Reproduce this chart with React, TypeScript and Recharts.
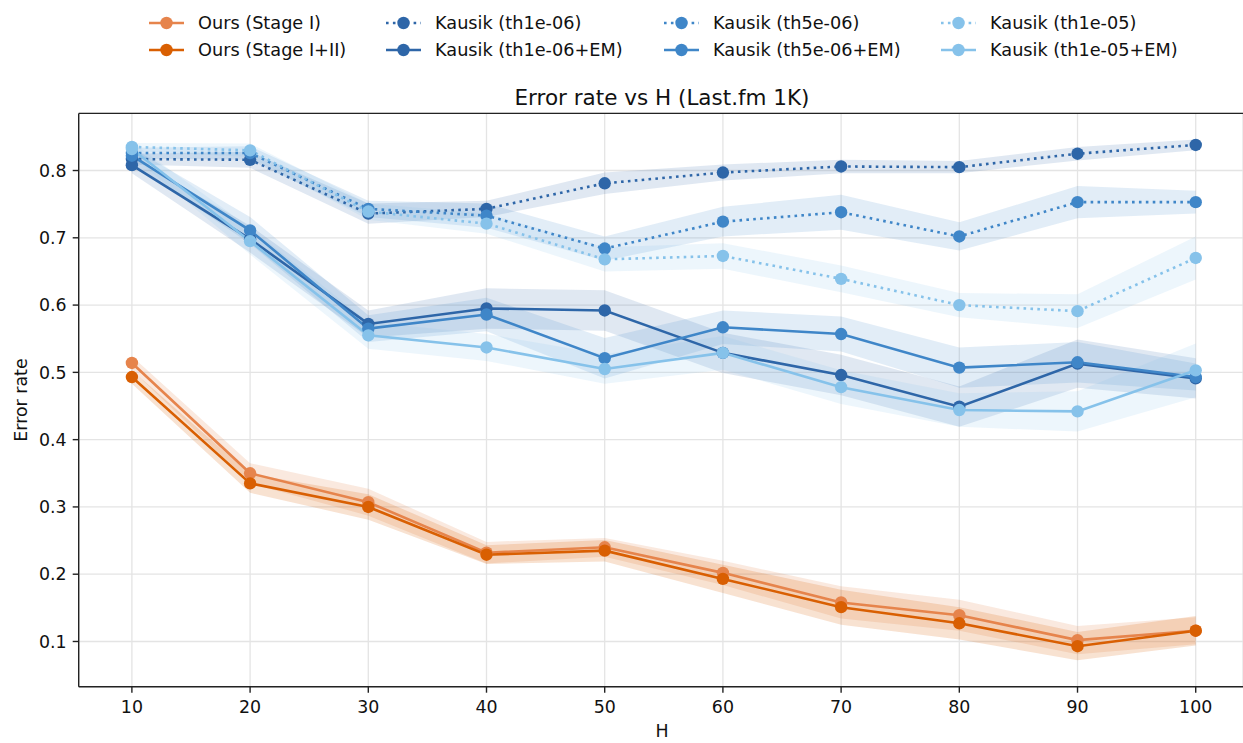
import React from 'react';
import { ComposedChart, Line, Area, XAxis, YAxis, CartesianGrid, ReferenceLine } from 'recharts';

const H = [10, 20, 30, 40, 50, 60, 70, 80, 90, 100];
const yTicks = [0.1, 0.2, 0.3, 0.4, 0.5, 0.6, 0.7, 0.8];

const oursStageI = [0.514, 0.350, 0.307, 0.232, 0.240, 0.202, 0.158, 0.139, 0.102, 0.116];
const oursStageIErr = [0.010, 0.015, 0.020, 0.016, 0.014, 0.018, 0.024, 0.023, 0.021, 0.020];
const oursStageI_II = [0.493, 0.335, 0.300, 0.229, 0.235, 0.193, 0.151, 0.127, 0.093, 0.116];
const oursStageI_IIErr = [0.010, 0.014, 0.019, 0.014, 0.016, 0.021, 0.026, 0.024, 0.021, 0.022];
const kTh1e6 = [0.817, 0.816, 0.736, 0.743, 0.781, 0.797, 0.806, 0.805, 0.825, 0.838];
const kTh1e6Err = [0.008, 0.012, 0.015, 0.012, 0.016, 0.012, 0.010, 0.009, 0.010, 0.008];
const kTh1e6EM = [0.808, 0.698, 0.572, 0.595, 0.592, 0.529, 0.496, 0.449, 0.513, 0.491];
const kTh1e6EMErr = [0.012, 0.020, 0.020, 0.030, 0.030, 0.030, 0.030, 0.030, 0.036, 0.030];
const kTh5e6 = [0.826, 0.826, 0.743, 0.733, 0.684, 0.724, 0.738, 0.702, 0.753, 0.753];
const kTh5e6Err = [0.008, 0.010, 0.012, 0.018, 0.018, 0.022, 0.026, 0.021, 0.024, 0.017];
const kTh5e6EM = [0.822, 0.711, 0.565, 0.586, 0.521, 0.567, 0.557, 0.507, 0.515, 0.493];
const kTh5e6EMErr = [0.012, 0.020, 0.020, 0.025, 0.030, 0.025, 0.026, 0.030, 0.030, 0.020];
const kTh1e5 = [0.835, 0.830, 0.739, 0.721, 0.668, 0.673, 0.639, 0.600, 0.591, 0.670];
const kTh1e5Err = [0.006, 0.010, 0.012, 0.015, 0.018, 0.019, 0.020, 0.018, 0.025, 0.032];
const kTh1e5EM = [0.832, 0.695, 0.555, 0.537, 0.505, 0.529, 0.478, 0.444, 0.442, 0.503];
const kTh1e5EMErr = [0.010, 0.020, 0.020, 0.020, 0.022, 0.025, 0.025, 0.025, 0.030, 0.040];

const series = [
  { key: 's1', name: 'Ours (Stage I)', values: oursStageI, err: oursStageIErr, color: '#e6844c', dotted: false },
  { key: 's12', name: 'Ours (Stage I+II)', values: oursStageI_II, err: oursStageI_IIErr, color: '#d95f02', dotted: false },
  { key: 'k1', name: 'Kausik (th1e-06)', values: kTh1e6, err: kTh1e6Err, color: '#2e66a8', dotted: true },
  { key: 'k1em', name: 'Kausik (th1e-06+EM)', values: kTh1e6EM, err: kTh1e6EMErr, color: '#2e66a8', dotted: false },
  { key: 'k5', name: 'Kausik (th5e-06)', values: kTh5e6, err: kTh5e6Err, color: '#3f86c8', dotted: true },
  { key: 'k5em', name: 'Kausik (th5e-06+EM)', values: kTh5e6EM, err: kTh5e6EMErr, color: '#3f86c8', dotted: false },
  { key: 'k10', name: 'Kausik (th1e-05)', values: kTh1e5, err: kTh1e5Err, color: '#86c2ea', dotted: true },
  { key: 'k10em', name: 'Kausik (th1e-05+EM)', values: kTh1e5EM, err: kTh1e5EMErr, color: '#86c2ea', dotted: false },
];

const data = H.map((h, i) => {
  const row: any = { h };
  series.forEach((s) => {
    row[s.key] = s.values[i];
    row[s.key + '_band'] = [s.values[i] - s.err[i], s.values[i] + s.err[i]];
  });
  return row;
});

const FONT = 'DejaVu Sans';
const DASH = '2.6 4.3';
const Y_DOMAIN = [0.0328, 0.8849];

const legendCols = [198, 435, 713, 990];
const legendRows = [23, 50];

export default function App() {
  return (
    <div style={{ position: 'absolute', left: 0, top: 0, width: 1243, height: 743, background: '#fff', fontFamily: FONT }}>
      <ComposedChart
        width={1243}
        height={743}
        data={data}
        margin={{ top: 113.4, right: 0, bottom: 16.3, left: 0 }}
      >
        <CartesianGrid stroke="#e4e4e4" strokeWidth={1.3} />
        <XAxis
          dataKey="h"
          type="number"
          domain={[5.5, 104]}
          ticks={H}
          allowDataOverflow
          height={40}
          tickSize={6}
          tickMargin={8}
          axisLine={{ stroke: '#222', strokeWidth: 1.4 }}
          tickLine={{ stroke: '#222', strokeWidth: 1.4 }}
          tick={{ fontSize: 17.4, fill: '#111', fontFamily: FONT }}
        />
        <YAxis
          type="number"
          domain={Y_DOMAIN}
          ticks={yTicks}
          allowDataOverflow
          width={78.7}
          tickSize={6}
          tickMargin={6}
          tickFormatter={(v: number) => v.toFixed(1)}
          axisLine={{ stroke: '#222', strokeWidth: 1.4 }}
          tickLine={{ stroke: '#222', strokeWidth: 1.4 }}
          tick={{ fontSize: 17.4, fill: '#111', fontFamily: FONT }}
        />
        <ReferenceLine y={Y_DOMAIN[1]} stroke="#222" strokeWidth={1.4} ifOverflow="visible" />
        {series.map((s) => (
          <Area
            key={s.key + '_band'}
            dataKey={s.key + '_band'}
            type="linear"
            stroke="none"
            fill={s.color}
            fillOpacity={s.key.startsWith('s') ? 0.18 : 0.15}
            isAnimationActive={false}
            dot={false}
            activeDot={false}
            legendType="none"
          />
        ))}
        {series.map((s) => (
          <Line
            key={s.key}
            dataKey={s.key}
            type="linear"
            stroke={s.color}
            strokeWidth={2.6}
            strokeDasharray={s.dotted ? DASH : undefined}
            dot={{ r: 6.2, fill: s.color, stroke: s.color, strokeWidth: 0 }}
            activeDot={false}
            isAnimationActive={false}
            legendType="none"
          />
        ))}
      </ComposedChart>
      <svg
        width={1243}
        height={743}
        style={{ position: 'absolute', left: 0, top: 0, pointerEvents: 'none' }}
      >
        {series.map((s, i) => {
          const col = Math.floor(i / 2);
          const row = i % 2;
          const tx = legendCols[col];
          const y = legendRows[row];
          const x1 = tx - 14 - 35;
          const x2 = tx - 14;
          return (
            <g key={s.key}>
              <line x1={x1} x2={x2} y1={y} y2={y} stroke={s.color} strokeWidth={2.6} strokeDasharray={s.dotted ? DASH : undefined} />
              <circle cx={(x1 + x2) / 2} cy={y} r={6.2} fill={s.color} />
              <text x={tx} y={y} dominantBaseline="central" fontSize={17.7} fontFamily={FONT} fill="#111">
                {s.name}
              </text>
            </g>
          );
        })}
        <text x={662} y={97} textAnchor="middle" dominantBaseline="central" fontSize={21.5} fontFamily={FONT} fill="#111">
          Error rate vs H (Last.fm 1K)
        </text>
        <text x={662} y={731} textAnchor="middle" dominantBaseline="central" fontSize={17.4} fontFamily={FONT} fill="#111">
          H
        </text>
        <text
          x={20.5}
          y={400}
          textAnchor="middle"
          dominantBaseline="central"
          fontSize={17.4}
          fontFamily={FONT}
          fill="#111"
          transform="rotate(-90 20.5 400)"
        >
          Error rate
        </text>
      </svg>
    </div>
  );
}
